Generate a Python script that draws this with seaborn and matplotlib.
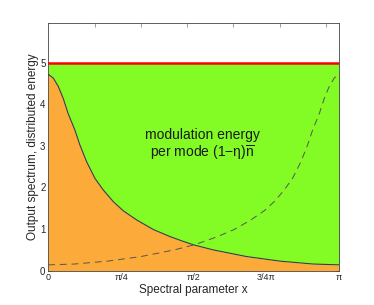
import numpy as np
import pandas as pd
import matplotlib
matplotlib.use("Agg")
import matplotlib.pyplot as plt
import seaborn as sns

# --------------------------------------------------
# Data
# --------------------------------------------------
x_solid = [0.000, 0.054, 0.108, 0.162, 0.216, 0.288, 0.342, 0.414, 0.504, 0.594,
           0.702, 0.810, 0.954, 1.134, 1.314, 1.450, 1.571, 1.780, 2.140, 2.500,
           2.860, 3.1416]
y_solid = [4.72, 4.63, 4.43, 4.14, 3.77, 3.38, 3.02, 2.62, 2.22, 1.94,
           1.66, 1.44, 1.22, 0.99, 0.82, 0.71, 0.62, 0.50, 0.34, 0.23,
           0.16, 0.14]

# dashed curve is the mirror image of the solid one
x_dashed = [0.000, 0.282, 0.642, 1.002, 1.362, 1.571, 1.692, 1.828, 2.008, 2.188,
            2.332, 2.440, 2.548, 2.638, 2.728, 2.800, 2.854, 2.926, 2.980, 3.034,
            3.088, 3.1416]
y_dashed = [0.14, 0.16, 0.23, 0.34, 0.50, 0.62, 0.71, 0.82, 0.99, 1.22,
            1.44, 1.66, 1.94, 2.22, 2.62, 3.02, 3.38, 3.77, 4.14, 4.43,
            4.63, 4.72]

total_energy = 5.0
xtick_pos = [0, np.pi / 4, np.pi / 2, 3 * np.pi / 4, np.pi]
xtick_labels = ["0", "π/4", "π/2", "3/4π", "π"]
top_ticks = [0.5, 1.0, 1.5, 2.0, 2.5, 3.0]
ytick_pos = [0, 1, 2, 3, 4, 5]

solid_df = pd.DataFrame({"x": x_solid, "y": y_solid})
dashed_df = pd.DataFrame({"x": x_dashed, "y": y_dashed})

# --------------------------------------------------
# Style
# --------------------------------------------------
sns.set_theme(style="white")
plt.rcParams["font.family"] = ["Liberation Sans", "DejaVu Sans"]
plt.rcParams["mathtext.fontset"] = "custom"
plt.rcParams["mathtext.rm"] = "Liberation Sans"
plt.rcParams["mathtext.it"] = "Liberation Sans"
plt.rcParams["xtick.direction"] = "in"
plt.rcParams["ytick.direction"] = "in"

fig = plt.figure(figsize=(3.74, 3.05), dpi=100)
ax = fig.add_axes([0.129, 0.1125, 0.778, 0.8131])

# filled regions
ax.fill_between(x_solid, 0, y_solid, color="#fcaa3a", linewidth=0, zorder=1)
ax.fill_between(x_solid, y_solid, total_energy, color="#82fc24", linewidth=0, zorder=1)

# curves
sns.lineplot(data=solid_df, x="x", y="y", ax=ax, color="#3a3a4a", linewidth=0.8, zorder=3)
sns.lineplot(data=dashed_df, x="x", y="y", ax=ax, color="#555555", linewidth=0.7,
             linestyle=(0, (7, 5)), zorder=3)
ax.axhline(total_energy, color="#ff0000", linewidth=1.8, zorder=4)

ax.text(1.67, 3.26, "modulation energy", ha="center", va="center", fontsize=10, color="#1a1a1a")
ax.text(1.67, 2.84, r"per mode (1$-\eta)\overline{n}$", ha="center", va="center",
        fontsize=10, color="#1a1a1a")

ax.set_xlim(0, np.pi)
ax.set_ylim(0, 5.96)
ax.set_xticks(xtick_pos)
ax.set_xticklabels(xtick_labels, fontsize=6.5)
ax.set_yticks(ytick_pos)
ax.set_yticklabels([str(v) for v in ytick_pos], fontsize=7)
ax.set_axisbelow(True)
ax.tick_params(axis="both", length=3, width=0.5, pad=2, color="#555555")
ax.tick_params(axis="y", right=True, left=True)

sec = ax.secondary_xaxis("top")
sec.set_xticks(top_ticks)
sec.set_xticklabels([])
sec.tick_params(direction="in", length=3, width=0.5, color="#777777")
sec.spines["top"].set_visible(False)

for sp in ax.spines.values():
    sp.set_color("#444444")
    sp.set_linewidth(0.6)

ax.set_xlabel("Spectral parameter x", fontsize=8.5, labelpad=1)
ax.set_ylabel("Output spectrum, distributed energy", fontsize=8.5, labelpad=1)

fig.savefig("out.png", dpi=100)
